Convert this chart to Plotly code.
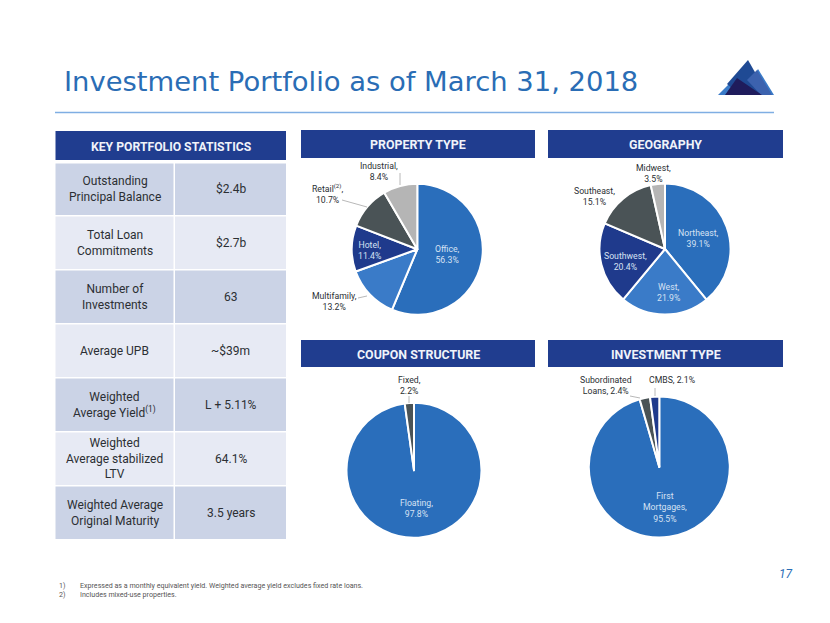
import plotly.graph_objects as go

W, H = 830, 623

title = "Investment Portfolio as of March 31, 2018"
stat_header = "KEY PORTFOLIO STATISTICS"
stat_names = ["Outstanding<br>Principal Balance", "Total Loan<br>Commitments", "Number of<br>Investments",
              "Average UPB", "Weighted<br>Average Yield<sup>(1)</sup>", "Weighted<br>Average stabilized<br>LTV",
              "Weighted Average<br>Original Maturity"]
stat_values = ["$2.4b", "$2.7b", "63", "~$39m", "L + 5.11%", "64.1%", "3.5 years"]

prop_labels = ["Office", "Multifamily", "Hotel", "Retail", "Industrial"]
prop_values = [56.3, 13.2, 11.4, 10.7, 8.4]
geo_labels = ["Northeast", "West", "Southwest", "Southeast", "Midwest"]
geo_values = [39.1, 21.9, 20.4, 15.1, 3.5]
coupon_labels = ["Floating", "Fixed"]
coupon_values = [97.8, 2.2]
inv_labels = ["First Mortgages", "Subordinated Loans", "CMBS"]
inv_values = [95.5, 2.4, 2.1]

BLUE, MID, NAVY, SLATE, GREY = "#2A6EBB", "#3A7BC8", "#1F3A8C", "#4A5356", "#B5B5B5"
HDR = "#203D8F"; ROW_D = "#CBD3E6"; ROW_L = "#E7EAF4"; TXT = "#2B2F33"; LABEL_L = "#D6E2F3"
FONT = "Roboto"

px = lambda x: x / W
py = lambda y: 1 - y / H

shapes, ann = [], []

def rect(x0, y0, x1, y1, color):
    shapes.append(dict(type="rect", xref="paper", yref="paper", x0=px(x0), x1=px(x1), y0=py(y1), y1=py(y0),
                       fillcolor=color, line=dict(width=0), layer="below"))

def line(x0, y0, x1, y1, color="#A6A6A6", w=0.8):
    shapes.append(dict(type="line", xref="paper", yref="paper", x0=px(x0), x1=px(x1), y0=py(y0), y1=py(y1),
                       line=dict(color=color, width=w)))

def text(x, y, s, size=9, color=TXT, anchor="center", font=FONT, **kw):
    ann.append(dict(xref="paper", yref="paper", x=px(x), y=py(y), text=s, showarrow=False, xanchor=anchor,
                    yanchor="middle", align=anchor,
                    font=dict(size=size, color=color, family=font), **kw))

def pie(labels, values, colors, cx, cy, r):
    return go.Pie(labels=labels, values=values, sort=False, direction="clockwise", rotation=0,
                  marker=dict(colors=colors, line=dict(color="white", width=2)), textinfo="none",
                  hoverinfo="label+percent", showlegend=False, automargin=False,
                  domain=dict(x=[px(cx - r), px(cx + r)], y=[py(cy + r), py(cy - r)]))

# Title and rule
text(61.5, 81.5, title, size=27.4, color="#2A6DB5", anchor="left", font="DejaVu Sans")
line(55, 112.5, 774, 112.5, color="#7FAEE3", w=1.5)

# Logo
def tri(path, color):
    shapes.append(dict(type="path", xref="paper", yref="paper",
                       path="M " + " L ".join(f"{px(a)},{py(b)}" for a, b in path) + " Z",
                       fillcolor=color, line=dict(width=0)))
tri([(718, 95), (736, 77), (754, 95)], "#3A7BC8")
tri([(742, 95), (758, 69), (774, 95)], "#3A7BC8")
tri([(727, 84), (748, 60), (768, 95), (740, 95)], "#1F4A94")
tri([(747, 80), (757, 70), (772, 95), (761, 95)], "#3C62AE")
tri([(725, 95), (737, 78), (762, 95)], "#1F1C5C")

# Table
rect(55.5, 131, 286, 160, HDR)
text(171, 147, f"<b>{stat_header}</b>", size=12.2, color="#F0F3FA")
rows = [(163.5, 215), (216.5, 269), (270.5, 323), (324.5, 377), (378.5, 431), (432.5, 485), (486.5, 539)]
for i, (y0, y1) in enumerate(rows):
    c = ROW_D if i in (0, 2, 4, 6) else ROW_L
    rect(55.5, y0, 173.5, y1, c)
    rect(175, y0, 286, y1, c)
    text(114.5, (y0 + y1) / 2, stat_names[i], size=12)
    text(230.5, (y0 + y1) / 2, stat_values[i], size=12)

# Panel headers
for x0, x1, y0, y1, s in [(301, 535, 130, 158, "PROPERTY TYPE"), (548, 783, 130, 158, "GEOGRAPHY"),
                          (301, 535, 340, 367, "COUPON STRUCTURE"), (548, 783, 340, 367, "INVESTMENT TYPE")]:
    rect(x0, y0, x1, y1, HDR)
    text((x0 + x1) / 2, (y0 + y1) / 2 + 1, f"<b>{s}</b>", size=12.4, color="#F0F3FA")

data = [
    pie(prop_labels, prop_values, [BLUE, MID, NAVY, SLATE, GREY], 417.3, 249.3, 65.5),
    pie(geo_labels, geo_values, [BLUE, MID, NAVY, SLATE, GREY], 665, 249, 65.5),
    pie(coupon_labels, coupon_values, [BLUE, SLATE], 414, 470.3, 67.5),
    pie(inv_labels, inv_values, [BLUE, SLATE, NAVY], 659.3, 467, 70.5),
]

# Slice labels
LS = 8.7
for x, y, s, c in [
    (447.5, 254, f"{prop_labels[0]},<br>{prop_values[0]}%", LABEL_L),
    (334, 302, f"{prop_labels[1]},<br>{prop_values[1]}%", TXT),
    (369, 250, f"{prop_labels[2]},<br>{prop_values[2]}%", LABEL_L),
    (327, 193, f"{prop_labels[3]}<sup>(2)</sup>,<br>{prop_values[3]}%", TXT),
    (379, 172, f"{prop_labels[4]},<br>{prop_values[4]}%", TXT),
    (698.5, 238, f"{geo_labels[0]},<br>{geo_values[0]}%", LABEL_L),
    (668, 293, f"{geo_labels[1]},<br>{geo_values[1]}%", LABEL_L),
    (625, 261, f"{geo_labels[2]},<br>{geo_values[2]}%", LABEL_L),
    (594, 196.5, f"{geo_labels[3]},<br>{geo_values[3]}%", TXT),
    (653, 174, f"{geo_labels[4]},<br>{geo_values[4]}%", TXT),
    (417, 508, f"{coupon_labels[0]},<br>{coupon_values[0]}%", LABEL_L),
    (409, 385, f"{coupon_labels[1]},<br>{coupon_values[1]}%", TXT),
    (664.5, 507, f"First<br>Mortgages,<br>{inv_values[0]}%", LABEL_L),
    (606, 385, f"Subordinated<br>Loans, {inv_values[1]}%", TXT),
    (672, 380, f"{inv_labels[2]}, {inv_values[2]}%", TXT),
]:
    text(x, y, s, size=LS, color=c)

# Leader lines
for seg in [(342, 200, 367, 207), (358, 298, 367, 296), (400, 173, 400, 185), (409, 396, 409, 403),
            (630, 396, 640, 398), (655, 388, 655, 396)]:
    line(*seg)

# Footer
text(786, 574, "<i>17</i>", size=12, color="#2A6DB5")
text(57, 585.5, "1)", size=7.1, color="#555555", anchor="left")
text(57, 594.5, "2)", size=7.1, color="#555555", anchor="left")
text(77.5, 585.5, "Expressed as a monthly equivalent yield. Weighted average yield excludes fixed rate loans.",
     size=7.1, color="#555555", anchor="left")
text(77.5, 594.5, "Includes mixed-use properties.", size=7.1, color="#555555", anchor="left")

fig = go.Figure(data=data)
fig.update_layout(width=W, height=H, margin=dict(l=0, r=0, t=0, b=0), paper_bgcolor="white",
                  plot_bgcolor="white", shapes=shapes, annotations=ann, font=dict(family=FONT))
fig.write_html("out.html", config=dict(displayModeBar=False),
               post_script="document.body.style.margin='0';document.documentElement.style.overflow='hidden';")
